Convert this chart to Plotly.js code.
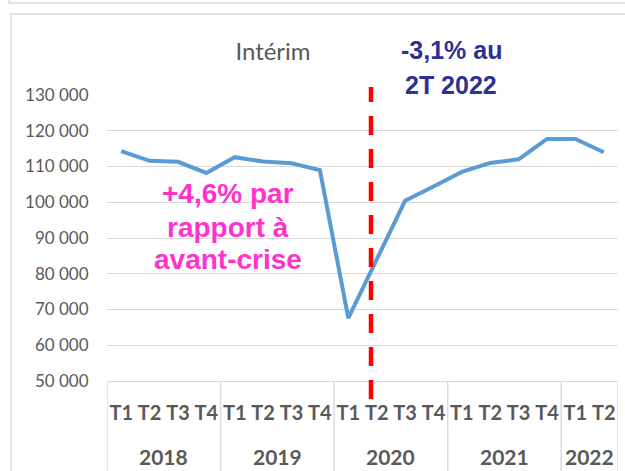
<!DOCTYPE html>
<html>
<head>
<meta charset="utf-8">
<script src="https://cdn.plot.ly/plotly-3.0.1.min.js"></script>
<style>
  html, body { margin: 0; padding: 0; background: #ffffff; }
  #wrap { position: relative; width: 625px; height: 471px; overflow: hidden; background: #fff; }
  .frame { position: absolute; border: 2px solid #e2e2e2; box-sizing: border-box; }
  #chart { position: absolute; left: 0; top: 0; width: 625px; height: 471px; }
</style>
</head>
<body>
<div id="wrap">
  <div class="frame" style="left:8px; top:-30px; width:700px; height:34px;"></div>
  <div class="frame" style="left:10px; top:13px; width:700px; height:520px;"></div>
  <div id="chart"></div>
</div>
<script>
// ---- data ----
const quarters = ['T1','T2','T3','T4','T1','T2','T3','T4','T1','T2','T3','T4','T1','T2','T3','T4','T1','T2'];
const years = ['2018','2019','2020','2021','2022'];
const yearCounts = [4, 4, 4, 4, 2];
const interim = [114300, 111600, 111300, 108200, 112600, 111400, 110900, 109000,
                 67600, 83700, 100400, 104400, 108500, 111000, 112000, 117700, 117700, 114000];
const yTicks = [50000, 60000, 70000, 80000, 90000, 100000, 110000, 120000, 130000];
const chartTitle = 'Intérim';
const pinkLines = ['+4,6% par', 'rapport à', 'avant-crise'];
const blueLines = ['-3,1% au', '2T 2022'];

// ---- geometry helpers (layout only) ----
const plotTop = 95, plotBottom = 381, plotLeft = 107, plotRight = 618;
const plotH = plotBottom - plotTop, plotW = plotRight - plotLeft;
const py = (pix) => (plotBottom - pix) / plotH;
const px = (pix) => (pix - plotLeft) / plotW;

const idx = quarters.map((_, i) => i);
const gray = '#595959';

const shapes = [];
const annotations = [];

// year dividers and year labels
let start = 0;
const bounds = [-0.5];
years.forEach((yr, k) => {
  const n = yearCounts[k];
  annotations.push({
    x: start + (n - 1) / 2, xref: 'x', y: py(456), yref: 'paper',
    text: yr, showarrow: false, xanchor: 'center', yanchor: 'middle',
    font: { family: 'Lato', size: 21, color: gray, weight: 'bold' }
  });
  start += n;
  bounds.push(start - 0.5);
});
bounds.forEach(b => {
  shapes.push({ type: 'line', xref: 'x', yref: 'paper', x0: b, x1: b, y0: 0, y1: py(475),
    line: { color: '#dcdcdc', width: 1.5 } });
});

// red dashed line
shapes.push({ type: 'line', xref: 'paper', yref: 'paper', x0: px(371), x1: px(371),
  y0: py(399), y1: py(87), line: { color: '#ff0000', width: 4.5, dash: '19px,14px' } });

// pink annotation
const pinkY = [193, 227, 259];
pinkLines.forEach((t, i) => annotations.push({
  x: px(228), xref: 'paper', y: py(pinkY[i]), yref: 'paper', text: t, showarrow: false,
  xanchor: 'center', yanchor: 'middle',
  font: { family: 'Liberation Sans', size: 28, color: '#ff33cc', weight: 'bold' }
}));
// blue annotation
const blueY = [50, 85];
blueLines.forEach((t, i) => annotations.push({
  x: px(451), xref: 'paper', y: py(blueY[i]), yref: 'paper', text: t, showarrow: false,
  xanchor: 'center', yanchor: 'middle',
  font: { family: 'Liberation Sans', size: 25, color: '#2e3192', weight: 'bold' }
}));

const trace = {
  x: idx, y: interim, type: 'scatter', mode: 'lines',
  line: { color: '#5b9bd5', width: 4 }, hoverinfo: 'skip'
};

const layout = {
  width: 625, height: 471,
  margin: { l: plotLeft, r: 625 - plotRight, t: plotTop, b: 471 - plotBottom, pad: 0 },
  paper_bgcolor: 'rgba(0,0,0,0)', plot_bgcolor: 'rgba(0,0,0,0)',
  separators: ', ',
  showlegend: false,
  title: {
    text: chartTitle, xref: 'paper', x: px(273), xanchor: 'center',
    yref: 'container', y: 1 - 52 / 471, yanchor: 'middle',
    font: { family: 'Lato', size: 24, color: gray }
  },
  xaxis: {
    type: 'linear', range: [-0.5, 17.5], tickvals: idx, ticktext: quarters,
    showgrid: false, zeroline: false, showline: true, linecolor: '#d9d9d9', linewidth: 1,
    ticks: 'outside', ticklen: 14, tickcolor: 'rgba(0,0,0,0)',
    tickfont: { family: 'Lato', size: 20, color: gray, weight: 'bold' }, fixedrange: true
  },
  yaxis: {
    range: [50000, 130000], tickvals: yTicks, tickformat: ',d',
    showgrid: true, gridcolor: '#d9d9d9', gridwidth: 1, zeroline: false, showline: false,
    ticks: 'outside', ticklen: 14, tickcolor: 'rgba(0,0,0,0)',
    tickfont: { family: 'Lato', size: 17, color: gray }, fixedrange: true
  },
  shapes: shapes,
  annotations: annotations
};

Plotly.newPlot('chart', [trace], layout, { displayModeBar: false, staticPlot: true });
</script>
</body>
</html>
